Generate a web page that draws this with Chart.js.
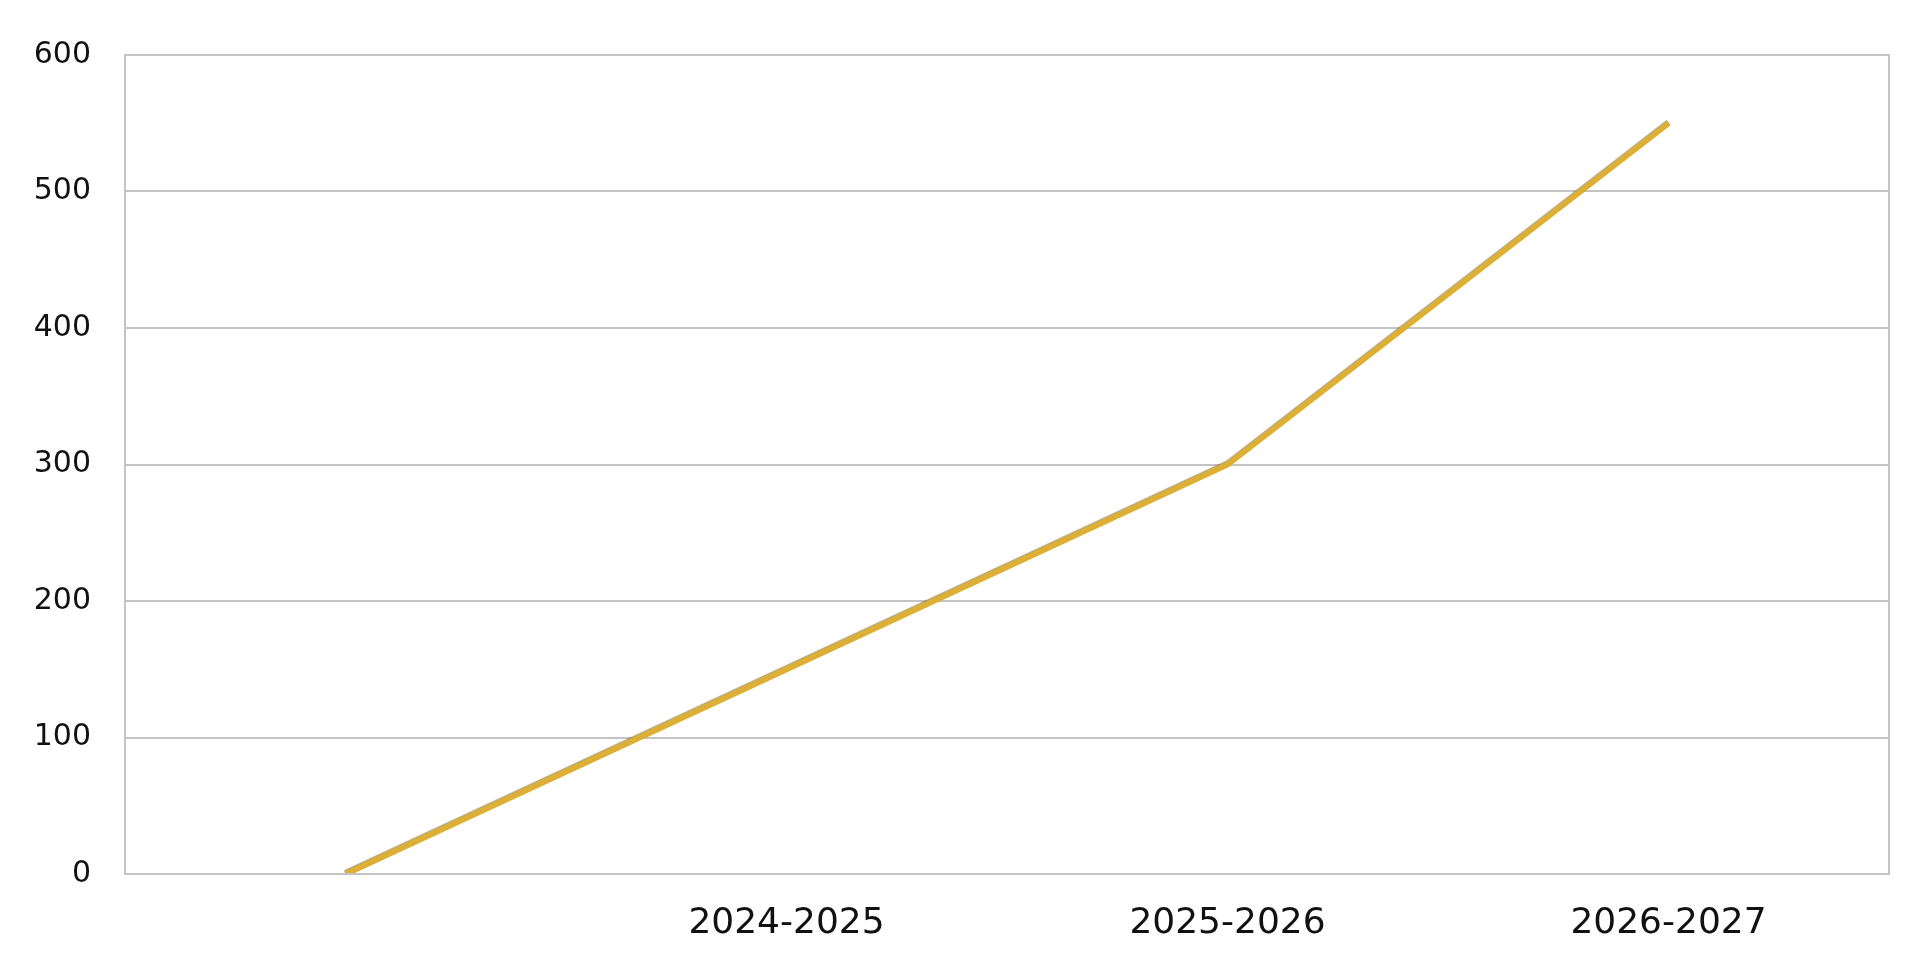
<!DOCTYPE html>
<html>
<head>
<meta charset="utf-8">
<script src="https://cdn.jsdelivr.net/npm/chart.js@4"></script>
<style>
  html, body { margin: 0; padding: 0; background: #fff; }
  #wrap { width: 1920px; height: 958px; }
</style>
</head>
<body>
<div id="wrap"><canvas id="lineChart"></canvas></div>
<script>
const periods = ['', '2024-2025', '2025-2026', '2026-2027'];
const values = [0, 150, 300, 550];
const yTicks = [0, 100, 200, 300, 400, 500, 600];

// frame round the plot area
const frame = {
    id: 'frame',
    afterDraw(chart) {
        const a = chart.chartArea, ctx = chart.ctx;
        ctx.save();
        ctx.strokeStyle = '#c4c4c4';
        ctx.lineWidth = 2;
        ctx.strokeRect(a.left, a.top, a.right - a.left, a.bottom - a.top);
        ctx.restore();
    }
};

// soft dark edge under the gold line
const lineEdge = {
    id: 'lineEdge',
    beforeDatasetsDraw(chart) {
        const ctx = chart.ctx;
        ctx.save();
        ctx.shadowColor = 'rgba(110, 75, 0, 0.55)';
        ctx.shadowOffsetY = -1;
        ctx.shadowBlur = 1;
    },
    afterDatasetsDraw(chart) {
        chart.ctx.restore();
    }
};

Chart.defaults.font.family = '"DejaVu Sans", Verdana, sans-serif';
Chart.defaults.color = '#111';

new Chart(document.getElementById('lineChart'), {
    type: 'line',
    data: {
        labels: periods,
        datasets: [{
            data: values,
            borderColor: '#dcb036',
            borderWidth: 6,
            pointRadius: 0,
            tension: 0,
            fill: false
        }]
    },
    options: {
        responsive: true,
        maintainAspectRatio: false,
        animation: false,
        layout: { padding: { left: 25, right: 31, top: 55, bottom: 24 } },
        plugins: { legend: { display: false }, tooltip: { enabled: false } },
        scales: {
            x: {
                offset: true,
                grid: { display: false, drawTicks: false },
                border: { display: false },
                afterFit: axis => { axis.height = 60; },
                ticks: { font: { size: 36 }, padding: 28, maxRotation: 0, autoSkip: false }
            },
            y: {
                min: 0,
                max: 600,
                afterBuildTicks: axis => { axis.ticks = yTicks.map(v => ({ value: v })); },
                afterFit: axis => { axis.width = 100; },
                grid: { color: '#c4c4c4', lineWidth: 2, drawTicks: false },
                border: { display: false },
                ticks: { font: { size: 30 }, padding: 34 }
            }
        }
    },
    plugins: [frame, lineEdge]
});
</script>
</body>
</html>
